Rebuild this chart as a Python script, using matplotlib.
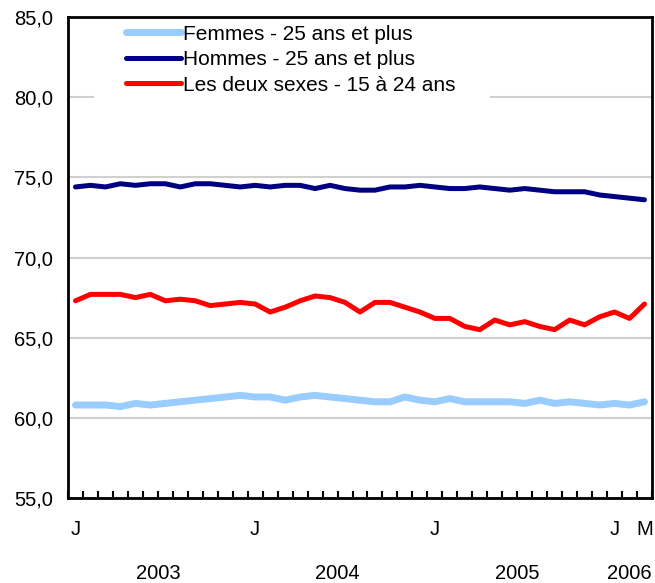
import matplotlib
matplotlib.use("Agg")
import matplotlib.pyplot as plt
from matplotlib.patches import Rectangle
from matplotlib.transforms import blended_transform_factory
import numpy as np

plt.rcParams['font.family'] = ['Liberation Sans', 'DejaVu Sans']

# Monthly data, January 2003 to March 2006
months = ["J", "F", "M", "A", "M", "J", "J", "A", "S", "O", "N", "D"] * 3 + ["J", "F", "M"]
years = [2003] * 12 + [2004] * 12 + [2005] * 12 + [2006] * 3

femmes = [60.8, 60.8, 60.8, 60.7, 60.9, 60.8, 60.9, 61.0, 61.1, 61.2, 61.3, 61.4,
          61.3, 61.3, 61.1, 61.3, 61.4, 61.3, 61.2, 61.1, 61.0, 61.0, 61.3, 61.1,
          61.0, 61.2, 61.0, 61.0, 61.0, 61.0, 60.9, 61.1, 60.9, 61.0, 60.9, 60.8,
          60.9, 60.8, 61.0]
hommes = [74.4, 74.5, 74.4, 74.6, 74.5, 74.6, 74.6, 74.4, 74.6, 74.6, 74.5, 74.4,
          74.5, 74.4, 74.5, 74.5, 74.3, 74.5, 74.3, 74.2, 74.2, 74.4, 74.4, 74.5,
          74.4, 74.3, 74.3, 74.4, 74.3, 74.2, 74.3, 74.2, 74.1, 74.1, 74.1, 73.9,
          73.8, 73.7, 73.6]
jeunes = [67.3, 67.7, 67.7, 67.7, 67.5, 67.7, 67.3, 67.4, 67.3, 67.0, 67.1, 67.2,
          67.1, 66.6, 66.9, 67.3, 67.6, 67.5, 67.2, 66.6, 67.2, 67.2, 66.9, 66.6,
          66.2, 66.2, 65.7, 65.5, 66.1, 65.8, 66.0, 65.7, 65.5, 66.1, 65.8, 66.3,
          66.6, 66.2, 67.1]

series_labels = ["Femmes - 25 ans et plus", "Hommes - 25 ans et plus",
                 "Les deux sexes - 15 à 24 ans"]
series_colors = ["#99CCFF", "#000080", "#FF0000"]

y_ticks = [55, 60, 65, 70, 75, 80, 85]
shown_month_idx = [0, 12, 24, 36, 38]

fig = plt.figure(figsize=(6.55, 5.83), dpi=100)
ax = fig.add_axes([68 / 655, 1 - 498 / 583, 584 / 655, 481 / 583])

x = np.arange(len(months))
ax.plot(x, femmes, color=series_colors[0], lw=5.0, solid_capstyle='round', zorder=3, label=series_labels[0])
ax.plot(x, hommes, color=series_colors[1], lw=3.6, solid_capstyle='round', zorder=3, label=series_labels[1])
ax.plot(x, jeunes, color=series_colors[2], lw=3.6, solid_capstyle='round', zorder=3, label=series_labels[2])

ax.set_xlim(-0.5, len(months) - 0.5)
ax.set_ylim(55, 85)
ax.set_yticks(y_ticks)
ax.set_yticklabels([f"{v:.1f}".replace(".", ",") for v in y_ticks], fontsize=14.5)
ax.tick_params(axis='y', length=0, pad=11)
ax.yaxis.grid(True, color='#D0D0D0', lw=1.5)
ax.set_axisbelow(True)

ax.set_xticks(shown_month_idx)
ax.set_xticklabels([months[i] for i in shown_month_idx], fontsize=14.5)
ax.tick_params(axis='x', which='major', length=0, pad=16)
ax.set_xticks(np.arange(len(months) + 1) - 0.5, minor=True)
ax.tick_params(axis='x', which='minor', direction='in', length=5, width=1.5, color='black')

for s in ax.spines.values():
    s.set_linewidth(2)
    s.set_color('black')

trans = blended_transform_factory(ax.transData, ax.transAxes)
for yr in sorted(set(years)):
    idx = [i for i, v in enumerate(years) if v == yr]
    ax.text(np.mean(idx), -0.157, str(yr), transform=trans, ha='center', va='center', fontsize=14.5)

ax.add_patch(Rectangle((26 / 584, 398 / 481), 396 / 584, 83 / 481, transform=ax.transAxes,
                       facecolor='white', edgecolor='none', zorder=1.5))

leg = ax.legend(loc='upper left', bbox_to_anchor=(54 / 584, 1.0 - 3.5 / 481), frameon=False,
                fontsize=15, handlelength=2.64, handletextpad=0.1, labelspacing=0.31,
                borderpad=0.2, borderaxespad=0)
for h in leg.get_lines():
    h.set_solid_capstyle('round')

fig.savefig("out.png", dpi=100)
